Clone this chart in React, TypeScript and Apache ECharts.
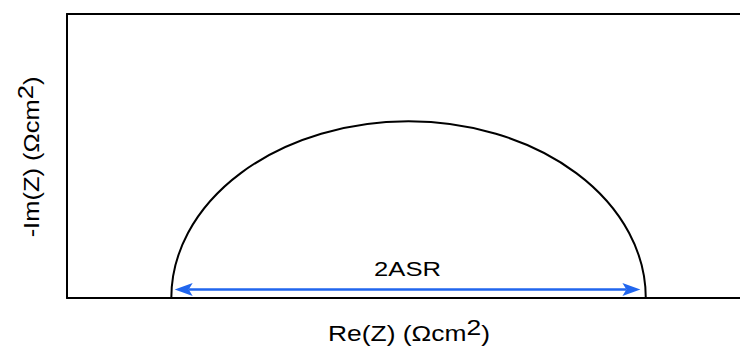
import React, { useEffect, useRef } from "react";
import * as echarts from "echarts";

// Axis extents (arbitrary units, no tick labels shown)
const reRange = [0, 100];
const imRange = [0, 100];

// Impedance arc: where it meets the real axis, and its height at the apex
const arcIntercepts = [15.5, 86.0];
const arcApex = [62.2];

// Double-headed arrow marking the arc diameter
const spanEnds = [16.0, 85.2];
const spanLevel = [3.0];
const spanLabel = ["2ASR"];

const xTitle = ["Re(Z) (Ωcm", "2", ")"];
const yTitle = ["-Im(Z) (Ωcm", "2", ")"];

const FONT = "Liberation Sans, Arial, Helvetica, sans-serif";
const BLUE = "#2166ee";

export default function App() {
  const ref = useRef<HTMLDivElement>(null);

  useEffect(() => {
    if (!ref.current) return;
    const chart = echarts.init(ref.current, null, { renderer: "svg" });

    const richTitle = (parts: string[]) =>
      `{m|${parts[0]}}{s|${parts[1]}}{m|${parts[2]}}`;
    const rich = {
      m: { fontSize: 22, fontFamily: FONT, fill: "#000" },
      s: { fontSize: 22, fontFamily: FONT, fill: "#000", padding: [0, 0, 11, 0] },
    };

    const lineAxis = {
      show: true,
      onZero: false,
      lineStyle: { color: "#000", width: 2 },
    };

    chart.setOption({
      animation: false,
      grid: { left: 67, top: 14, right: 0, bottom: 51 },
      xAxis: [
        {
          type: "value",
          min: reRange[0],
          max: reRange[1],
          position: "bottom",
          axisLine: lineAxis,
          axisTick: { show: false },
          axisLabel: { show: false },
          splitLine: { show: false },
        },
        {
          type: "value",
          min: reRange[0],
          max: reRange[1],
          position: "top",
          axisLine: lineAxis,
          axisTick: { show: false },
          axisLabel: { show: false },
          splitLine: { show: false },
        },
      ],
      yAxis: {
        type: "value",
        min: imRange[0],
        max: imRange[1],
        axisLine: lineAxis,
        axisTick: { show: false },
        axisLabel: { show: false },
        splitLine: { show: false },
      },
      graphic: [
        {
          type: "text",
          x: 409,
          y: 333,
          scaleX: 1.2,
          style: {
            text: richTitle(xTitle),
            rich,
            align: "center",
            verticalAlign: "middle",
          },
        },
        {
          type: "text",
          x: 31,
          y: 157,
          rotation: Math.PI / 2,
          scaleX: 1.16,
          style: {
            text: richTitle(yTitle),
            rich,
            align: "center",
            verticalAlign: "middle",
          },
        },
      ],
      series: [
        {
          type: "custom",
          name: "arc",
          clip: false,
          data: [[arcIntercepts[0], arcIntercepts[1], arcApex[0]]],
          renderItem: (params: any, api: any) => {
            const a = api.value(0);
            const b = api.value(1);
            const h = api.value(2);
            const p1 = api.coord([a, 0]);
            const p2 = api.coord([b, 0]);
            const top = api.coord([(a + b) / 2, h]);
            const rx = (p2[0] - p1[0]) / 2;
            const ry = p1[1] - top[1];
            return {
              type: "path",
              shape: {
                pathData: `M${p1[0]} ${p1[1]} A${rx} ${ry} 0 0 1 ${p2[0]} ${p2[1]}`,
              },
              style: { fill: "none", stroke: "#000", lineWidth: 2 },
            };
          },
        },
        {
          type: "custom",
          name: "span",
          clip: false,
          data: [[spanEnds[0], spanEnds[1], spanLevel[0]]],
          renderItem: (params: any, api: any) => {
            const l = api.coord([api.value(0), api.value(2)]);
            const r = api.coord([api.value(1), api.value(2)]);
            const y = l[1];
            const len = 18;
            const half = 6.5;
            const notch = 4;
            return {
              type: "group",
              children: [
                {
                  type: "line",
                  shape: { x1: l[0] + len - notch, y1: y, x2: r[0] - len + notch, y2: y },
                  style: { stroke: BLUE, lineWidth: 2.5 },
                },
                {
                  type: "polygon",
                  shape: {
                    points: [
                      [l[0], y],
                      [l[0] + len, y - half],
                      [l[0] + len - notch, y],
                      [l[0] + len, y + half],
                    ],
                  },
                  style: { fill: BLUE },
                },
                {
                  type: "polygon",
                  shape: {
                    points: [
                      [r[0], y],
                      [r[0] - len, y - half],
                      [r[0] - len + notch, y],
                      [r[0] - len, y + half],
                    ],
                  },
                  style: { fill: BLUE },
                },
                {
                  type: "text",
                  x: (l[0] + r[0]) / 2,
                  y: y - 20.5,
                  scaleX: 1.22,
                  style: {
                    text: spanLabel[0],
                    fontSize: 21,
                    fontFamily: FONT,
                    fill: "#000",
                    align: "center",
                    verticalAlign: "middle",
                  },
                },
              ],
            };
          },
        },
      ],
    });

    return () => chart.dispose();
  }, []);

  return (
    <div
      ref={ref}
      style={{ position: "fixed", left: 0, top: 0, width: 740, height: 349, background: "#fff" }}
    />
  );
}
